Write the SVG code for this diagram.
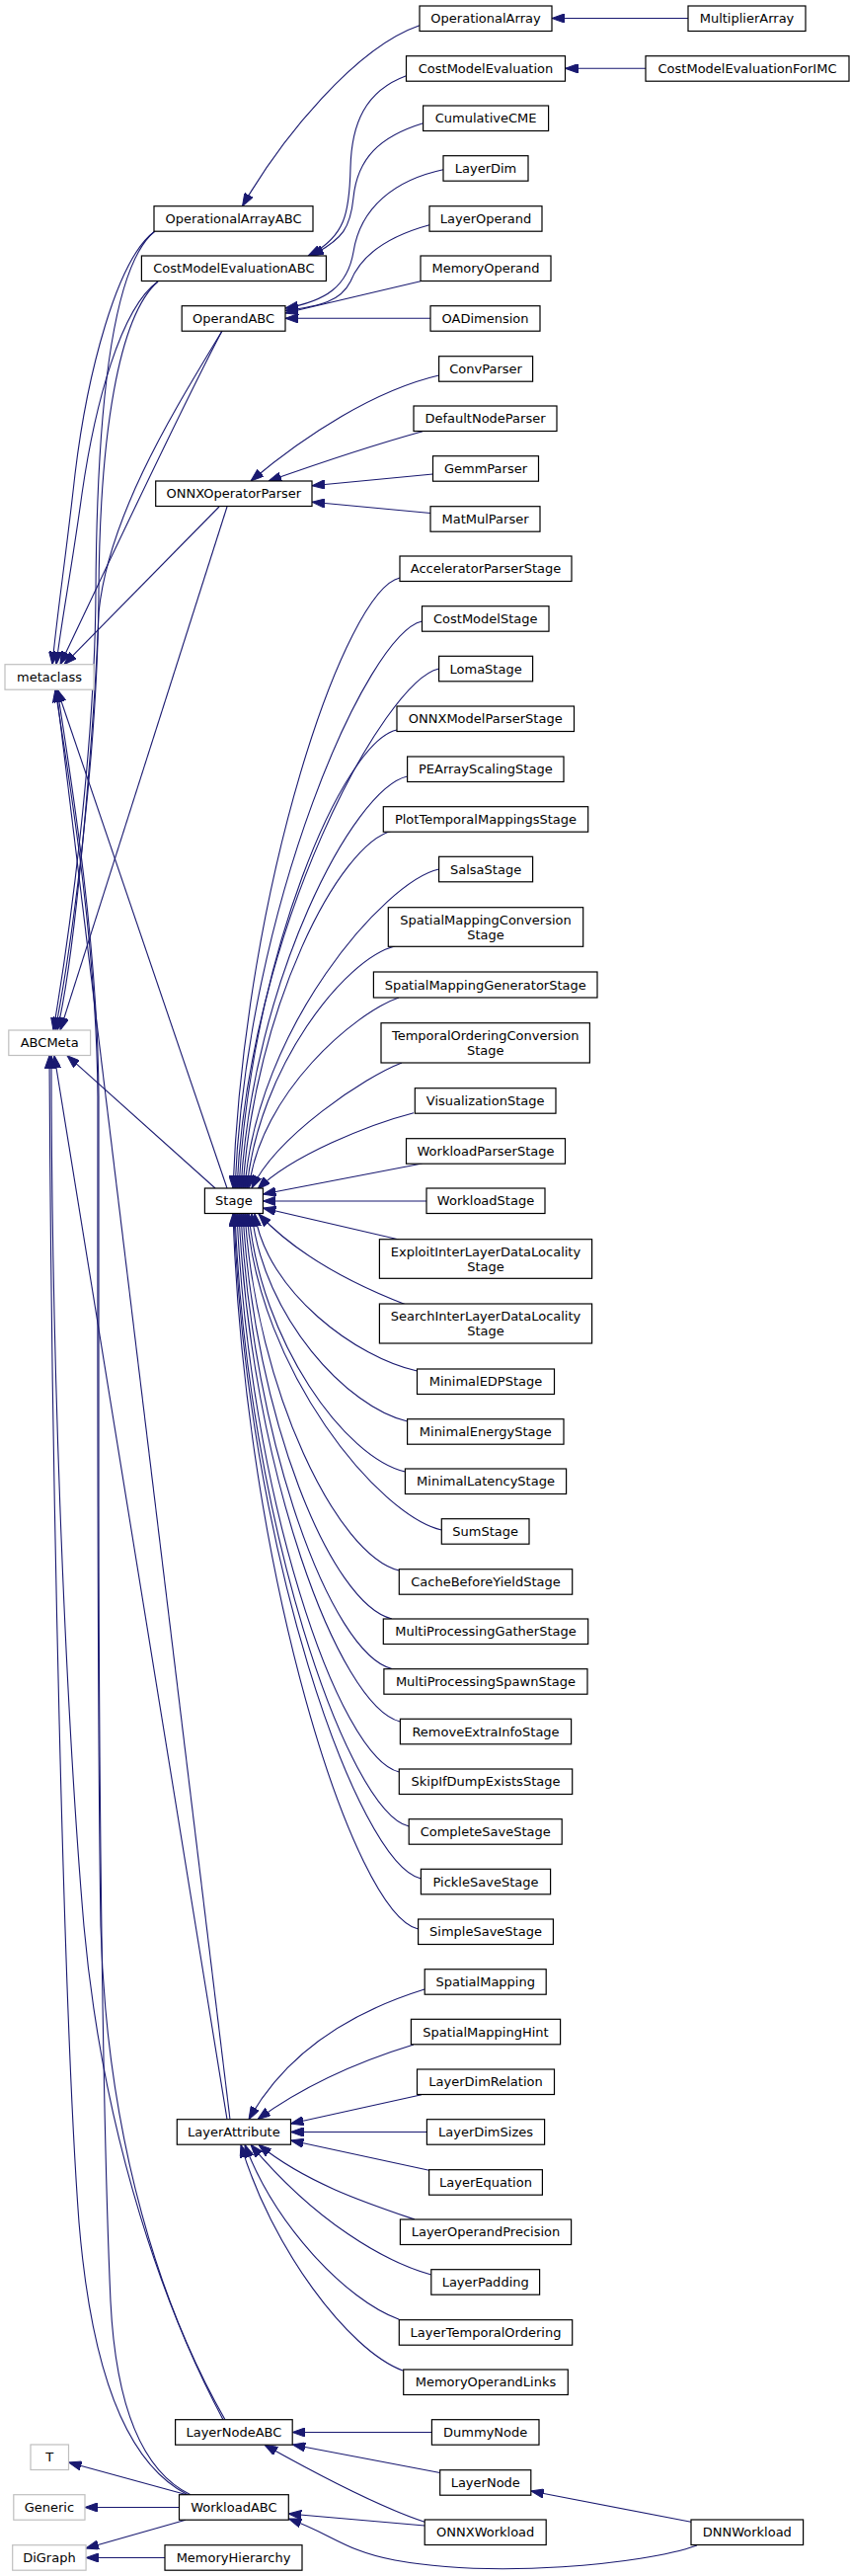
<svg xmlns="http://www.w3.org/2000/svg" width="861" height="2608" viewBox="0 0 861 2608">
<style>
.n rect{fill:#fff;stroke:#000;stroke-width:1.2}
.x rect{fill:#fff;stroke:#bfbfbf;stroke-width:1.2}
text{font-family:"DejaVu Sans","Liberation Sans",sans-serif;font-size:13px;fill:#000;text-anchor:middle}
#edges path{fill:none;stroke:#191970;stroke-width:1.1;marker-end:url(#arr)}
</style>
<defs>
<marker id="arr" markerUnits="userSpaceOnUse" viewBox="0 0 13 9.4" refX="13" refY="4.7" markerWidth="13" markerHeight="9.4" orient="auto">
<path d="M0,0 L13,4.7 L0,9.4 z" fill="#191970" stroke="#191970" stroke-width="1"/>
</marker>
</defs>
<rect width="861" height="2608" fill="#fff"/>
<g id="edges">
<path d="M697,18.5 L559,18.5"/>
<path d="M654,69.3 L572.5,69.3"/>
<path d="M425,25.7 C360,48 285,140 245.5,208.7"/>
<path d="M411.5,76.7 C370,92 356,125 355,170 C354,215 350,240 312,259"/>
<path d="M428.6,124.7 C385,138 362,160 358,200 C355,230 348,242 315,259"/>
<path d="M449,171.7 C400,182 365,210 358,255 C352,290 330,305 289,312"/>
<path d="M435,227.7 C390,240 365,260 355,285 C345,305 325,310 289,314.5"/>
<path d="M426,284.7 L289,317"/>
<path d="M436,322.3 L289,322.3"/>
<path d="M444.6,380 C380,395 310,440 254,487"/>
<path d="M428,436.7 C380,450 320,470 272,487"/>
<path d="M438.5,480 L316,491.7"/>
<path d="M436,519.5 L316,508.3"/>
<path d="M157,234 C118,262 88,380 76,480 C66,570 58,620 53,672.7"/>
<path d="M160,285 C122,312 96,410 83,500 C72,580 62,630 57,672.7"/>
<path d="M225,335 C185,410 110,570 61,672.7"/>
<path d="M222,513 L65,672.7"/>
<path d="M157,234 C112,270 98,420 97,600 C96,760 70,950 54,1043"/>
<path d="M160,285 C120,320 101,440 100,600 C99,760 74,950 56,1043"/>
<path d="M225,335 C180,410 110,520 100,620 C97,700 80,950 58,1043"/>
<path d="M230,513 L61,1043"/>
<path d="M230,1203 L58,698"/>
<path d="M218,1203 L68,1068.7"/>
<path d="M233,2145.7 L57,698"/>
<path d="M230,2145.7 L55,1068.7"/>
<path d="M228,2449.7 C165,2340 108,2170 102,1950 C98,1700 99,1300 99,1110 C98,960 72,800 56,698"/>
<path d="M226,2449.7 C170,2345 105,2170 85,1950 C68,1750 52,1400 52,1068.7"/>
<path d="M193,2525.7 C150,2505 118,2450 112,2330 C104,2150 100,1800 100,1500 C100,1300 100,1150 100,1110 C99,960 74,800 58,698"/>
<path d="M190,2525.7 C140,2500 95,2430 80,2250 C65,2050 52,1500 50,1068.7"/>
<path d="M405,585 C350,597 248,894 236,1203"/>
<path d="M427.5,629 C372.5,641 250,916 238,1203"/>
<path d="M444.6,677 C389.6,689 252,940 240,1203"/>
<path d="M402,739 C347,751 254,971 242,1203"/>
<path d="M412.6,786 C357.6,798 256,994.5 244,1203"/>
<path d="M398,841 C343,853 258,1022 246,1203"/>
<path d="M444.6,880 C389.6,892 260,1041.5 248,1203"/>
<path d="M400,958 C350,970 262,1080.5 250,1203"/>
<path d="M404,1010 C360,1025 264,1106 252,1203"/>
<path d="M407,1076 C370,1090 280,1150 255,1203"/>
<path d="M419,1126.7 C375,1138 295,1170 261,1204"/>
<path d="M427.5,1178 L266.4,1209"/>
<path d="M432,1216 L266.4,1216"/>
<path d="M404.3,1255 L266.4,1223"/>
<path d="M411.5,1321 C370,1305 305,1275 262,1229"/>
<path d="M422.5,1388 C362,1375 270,1308 258,1228.7"/>
<path d="M412.6,1439 C352,1425 267,1334 255,1228.7"/>
<path d="M410.4,1490 C350,1476 264,1359 252,1228.7"/>
<path d="M447.3,1549 C385,1535 262,1389 250,1228.7"/>
<path d="M404.3,1590 C342,1575 260,1409 248,1228.7"/>
<path d="M397,1639 C335,1624 258,1434 246,1228.7"/>
<path d="M397,1689.5 C335,1674 256,1459 244,1228.7"/>
<path d="M405.4,1743 C343,1728 254,1486 242,1228.7"/>
<path d="M404.3,1794 C342,1779 252,1511 240,1228.7"/>
<path d="M414.2,1849 C352,1834 250,1539 238,1228.7"/>
<path d="M426.4,1902 C362,1887 249,1565 237,1228.7"/>
<path d="M423.6,1953 C358,1938 248,1591 236,1228.7"/>
<path d="M430,2014 C385,2028 300,2060 252,2145.7"/>
<path d="M419,2070 C370,2085 310,2110 261,2145.7"/>
<path d="M427,2120.7 L294.5,2150"/>
<path d="M432.4,2158.5 L294.5,2158.5"/>
<path d="M434.6,2197.3 L294.5,2167"/>
<path d="M420,2247 C370,2230 310,2210 262,2171.3"/>
<path d="M436.8,2303 C390,2290 320,2250 254,2171.3"/>
<path d="M404.3,2348.3 C349,2328 278,2251 248,2171.3"/>
<path d="M408,2400 C353,2380 274,2274 244,2171.3"/>
<path d="M437.4,2462.5 L296.2,2462.5"/>
<path d="M445.7,2503.5 L296.2,2475"/>
<path d="M430.2,2553.3 C390,2540 330,2510 268,2475.3"/>
<path d="M430.2,2557 L292.3,2545"/>
<path d="M700,2553.3 L537.8,2522"/>
<path d="M706,2577 C650,2597 500,2610 400,2592 C350,2583 335,2565 292.3,2550"/>
<path d="M190,2526 L69.5,2493"/>
<path d="M181.5,2538.5 L86,2538.5"/>
<path d="M188,2551.3 L87,2580"/>
<path d="M167,2589.5 L87.1,2589.5"/>
</g>
<g id="n_OperationalArray" class="n"><rect x="425" y="6" width="134" height="25.5"/><text x="492" y="23.4">OperationalArray</text></g>
<g id="n_MultiplierArray" class="n"><rect x="697" y="6" width="119" height="25.5"/><text x="756.5" y="23.4">MultiplierArray</text></g>
<g id="n_CostModelEvaluation" class="n"><rect x="411.5" y="56.7" width="161" height="25.5"/><text x="492" y="74">CostModelEvaluation</text></g>
<g id="n_CostModelEvaluationForIMC" class="n"><rect x="654" y="56.7" width="206" height="25.5"/><text x="757" y="74">CostModelEvaluationForIMC</text></g>
<g id="n_CumulativeCME" class="n"><rect x="428.6" y="107" width="127" height="25.5"/><text x="492.1" y="124.4">CumulativeCME</text></g>
<g id="n_LayerDim" class="n"><rect x="449" y="157.7" width="86" height="25.5"/><text x="492" y="175">LayerDim</text></g>
<g id="n_LayerOperand" class="n"><rect x="435" y="208.7" width="114" height="25.5"/><text x="492" y="226">LayerOperand</text></g>
<g id="n_MemoryOperand" class="n"><rect x="426" y="259" width="132" height="25.5"/><text x="492" y="276.4">MemoryOperand</text></g>
<g id="n_OADimension" class="n"><rect x="436" y="309.7" width="111" height="25.5"/><text x="491.5" y="327">OADimension</text></g>
<g id="n_ConvParser" class="n"><rect x="444.6" y="360.7" width="95" height="25.5"/><text x="492.1" y="378">ConvParser</text></g>
<g id="n_DefaultNodeParser" class="n"><rect x="419" y="411" width="145" height="25.5"/><text x="491.5" y="428.4">DefaultNodeParser</text></g>
<g id="n_GemmParser" class="n"><rect x="438.5" y="461.7" width="107" height="25.5"/><text x="492" y="479">GemmParser</text></g>
<g id="n_MatMulParser" class="n"><rect x="436" y="512.7" width="111" height="25.5"/><text x="491.5" y="530">MatMulParser</text></g>
<g id="n_AcceleratorParserStage" class="n"><rect x="405" y="563" width="174" height="25.5"/><text x="492" y="580.4">AcceleratorParserStage</text></g>
<g id="n_CostModelStage" class="n"><rect x="427.5" y="613.7" width="128.5" height="25.5"/><text x="491.75" y="631">CostModelStage</text></g>
<g id="n_LomaStage" class="n"><rect x="444.6" y="664.3" width="95" height="25.5"/><text x="492.1" y="681.6">LomaStage</text></g>
<g id="n_ONNXModelParserStage" class="n"><rect x="402" y="715" width="179.5" height="25.5"/><text x="491.75" y="732.4">ONNXModelParserStage</text></g>
<g id="n_PEArrayScalingStage" class="n"><rect x="412.6" y="766" width="158.4" height="25.5"/><text x="491.8" y="783.4">PEArrayScalingStage</text></g>
<g id="n_PlotTemporalMappingsStage" class="n"><rect x="388.3" y="816.7" width="207.4" height="25.5"/><text x="492" y="834">PlotTemporalMappingsStage</text></g>
<g id="n_SalsaStage" class="n"><rect x="444.6" y="867.3" width="95" height="25.5"/><text x="492.1" y="884.6">SalsaStage</text></g>
<g id="n_SpatialMappingConversionStage" class="n"><rect x="393.3" y="918.7" width="197.4" height="39.6"/><text x="492" y="935.6">SpatialMappingConversion</text><text x="492" y="950.6">Stage</text></g>
<g id="n_SpatialMappingGeneratorStage" class="n"><rect x="378.4" y="984" width="226.6" height="26"/><text x="491.7" y="1001.5">SpatialMappingGeneratorStage</text></g>
<g id="n_TemporalOrderingConversionStage" class="n"><rect x="386" y="1035.7" width="211.4" height="40.3"/><text x="491.7" y="1052.9">TemporalOrderingConversion</text><text x="491.7" y="1067.9">Stage</text></g>
<g id="n_VisualizationStage" class="n"><rect x="420.3" y="1101.7" width="142.7" height="25.5"/><text x="491.65" y="1119">VisualizationStage</text></g>
<g id="n_WorkloadParserStage" class="n"><rect x="411.5" y="1152.7" width="161" height="25.5"/><text x="492" y="1170">WorkloadParserStage</text></g>
<g id="n_WorkloadStage" class="n"><rect x="432" y="1203" width="120" height="25.5"/><text x="492" y="1220.4">WorkloadStage</text></g>
<g id="n_ExploitInterLayerDataLocalityStage" class="n"><rect x="384.4" y="1254.7" width="215.2" height="39.6"/><text x="492" y="1271.6">ExploitInterLayerDataLocality</text><text x="492" y="1286.6">Stage</text></g>
<g id="n_SearchInterLayerDataLocalityStage" class="n"><rect x="384.4" y="1320" width="215.2" height="40"/><text x="492" y="1337.1">SearchInterLayerDataLocality</text><text x="492" y="1352.1">Stage</text></g>
<g id="n_MinimalEDPStage" class="n"><rect x="422.5" y="1386" width="139" height="25.5"/><text x="492" y="1403.4">MinimalEDPStage</text></g>
<g id="n_MinimalEnergyStage" class="n"><rect x="412.6" y="1436.7" width="158.4" height="25.5"/><text x="491.8" y="1454">MinimalEnergyStage</text></g>
<g id="n_MinimalLatencyStage" class="n"><rect x="410.4" y="1487" width="163.2" height="25.5"/><text x="492" y="1504.4">MinimalLatencyStage</text></g>
<g id="n_SumStage" class="n"><rect x="447.3" y="1537.7" width="88.7" height="25.5"/><text x="491.65" y="1555">SumStage</text></g>
<g id="n_CacheBeforeYieldStage" class="n"><rect x="404.3" y="1588.7" width="175.4" height="25.5"/><text x="492" y="1606">CacheBeforeYieldStage</text></g>
<g id="n_MultiProcessingGatherStage" class="n"><rect x="388.3" y="1639" width="207.4" height="25.5"/><text x="492" y="1656.4">MultiProcessingGatherStage</text></g>
<g id="n_MultiProcessingSpawnStage" class="n"><rect x="388.9" y="1689.7" width="206.1" height="25.5"/><text x="491.95" y="1707">MultiProcessingSpawnStage</text></g>
<g id="n_RemoveExtraInfoStage" class="n"><rect x="405.4" y="1740.3" width="173.2" height="25.5"/><text x="492" y="1757.6">RemoveExtraInfoStage</text></g>
<g id="n_SkipIfDumpExistsStage" class="n"><rect x="404.3" y="1791" width="175.4" height="25.5"/><text x="492" y="1808.4">SkipIfDumpExistsStage</text></g>
<g id="n_CompleteSaveStage" class="n"><rect x="414.2" y="1841.7" width="155" height="25.5"/><text x="491.7" y="1859">CompleteSaveStage</text></g>
<g id="n_PickleSaveStage" class="n"><rect x="426.4" y="1892.3" width="131.2" height="25.5"/><text x="492" y="1909.6">PickleSaveStage</text></g>
<g id="n_SimpleSaveStage" class="n"><rect x="423.6" y="1943" width="136.8" height="25.5"/><text x="492" y="1960.4">SimpleSaveStage</text></g>
<g id="n_SpatialMapping" class="n"><rect x="430.2" y="1993.7" width="123" height="25.5"/><text x="491.7" y="2011">SpatialMapping</text></g>
<g id="n_SpatialMappingHint" class="n"><rect x="416.4" y="2044.3" width="151.2" height="25.5"/><text x="492" y="2061.6">SpatialMappingHint</text></g>
<g id="n_LayerDimRelation" class="n"><rect x="422.5" y="2095" width="139" height="25.5"/><text x="492" y="2112.4">LayerDimRelation</text></g>
<g id="n_LayerDimSizes" class="n"><rect x="432.4" y="2145.7" width="119.2" height="25.5"/><text x="492" y="2163">LayerDimSizes</text></g>
<g id="n_LayerEquation" class="n"><rect x="434.6" y="2196.7" width="114.8" height="25.5"/><text x="492" y="2214">LayerEquation</text></g>
<g id="n_LayerOperandPrecision" class="n"><rect x="405.4" y="2247" width="173.2" height="25.5"/><text x="492" y="2264.4">LayerOperandPrecision</text></g>
<g id="n_LayerPadding" class="n"><rect x="436.8" y="2297.7" width="109.8" height="25.5"/><text x="491.7" y="2315">LayerPadding</text></g>
<g id="n_LayerTemporalOrdering" class="n"><rect x="404.3" y="2348.7" width="175.4" height="25.5"/><text x="492" y="2366">LayerTemporalOrdering</text></g>
<g id="n_MemoryOperandLinks" class="n"><rect x="408.7" y="2399" width="166.6" height="25.5"/><text x="492" y="2416.4">MemoryOperandLinks</text></g>
<g id="n_DummyNode" class="n"><rect x="437.4" y="2449.7" width="108.6" height="25.5"/><text x="491.7" y="2467">DummyNode</text></g>
<g id="n_LayerNode" class="n"><rect x="445.7" y="2500.7" width="92.1" height="25.5"/><text x="491.75" y="2518">LayerNode</text></g>
<g id="n_ONNXWorkload" class="n"><rect x="430.2" y="2551" width="123" height="25.5"/><text x="491.7" y="2568.4">ONNXWorkload</text></g>
<g id="n_DNNWorkload" class="n"><rect x="700" y="2551" width="113.6" height="25.5"/><text x="756.8" y="2568.4">DNNWorkload</text></g>
<g id="n_OperationalArrayABC" class="n"><rect x="156" y="208.7" width="161" height="25.5"/><text x="236.5" y="226">OperationalArrayABC</text></g>
<g id="n_CostModelEvaluationABC" class="n"><rect x="143.4" y="259" width="187" height="25.5"/><text x="236.9" y="276.4">CostModelEvaluationABC</text></g>
<g id="n_OperandABC" class="n"><rect x="184.2" y="309.7" width="104.8" height="25.5"/><text x="236.6" y="327">OperandABC</text></g>
<g id="n_ONNXOperatorParser" class="n"><rect x="157.7" y="487" width="158.3" height="25.5"/><text x="236.85" y="504.4">ONNXOperatorParser</text></g>
<g id="n_Stage" class="n"><rect x="207.4" y="1203" width="59" height="25.5"/><text x="236.9" y="1220.4">Stage</text></g>
<g id="n_LayerAttribute" class="n"><rect x="179.3" y="2145.7" width="115.2" height="25.5"/><text x="236.9" y="2163">LayerAttribute</text></g>
<g id="n_LayerNodeABC" class="n"><rect x="177.6" y="2449.7" width="118.6" height="25.5"/><text x="236.9" y="2467">LayerNodeABC</text></g>
<g id="n_WorkloadABC" class="n"><rect x="181.5" y="2525.7" width="110.8" height="25.5"/><text x="236.9" y="2543">WorkloadABC</text></g>
<g id="n_MemoryHierarchy" class="n"><rect x="167" y="2576.7" width="139" height="25.5"/><text x="236.5" y="2594">MemoryHierarchy</text></g>
<g id="n_metaclass" class="x"><rect x="5" y="672.7" width="90" height="25.5"/><text x="50" y="690">metaclass</text></g>
<g id="n_ABCMeta" class="x"><rect x="8.8" y="1043" width="82.8" height="25.5"/><text x="50.2" y="1060.4">ABCMeta</text></g>
<g id="n_T" class="x"><rect x="31" y="2475" width="38.5" height="25.5"/><text x="50.25" y="2492.4">T</text></g>
<g id="n_Generic" class="x"><rect x="13.8" y="2525.7" width="72.2" height="25.5"/><text x="49.9" y="2543">Generic</text></g>
<g id="n_DiGraph" class="x"><rect x="12.7" y="2576.7" width="74.4" height="25.5"/><text x="49.9" y="2594">DiGraph</text></g>
</svg>
